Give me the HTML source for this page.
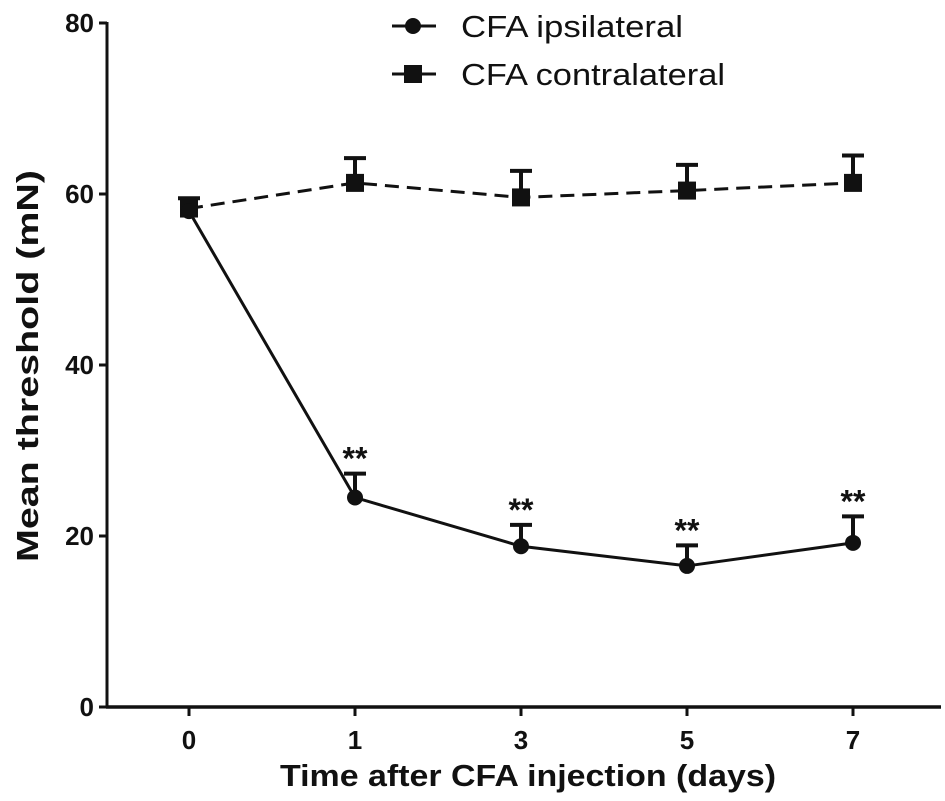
<!DOCTYPE html>
<html><head><meta charset="utf-8"><style>
html,body{margin:0;padding:0;background:#fff;}
svg{display:block;font-family:"Liberation Sans",Arial,sans-serif;}
</style></head><body>
<svg id="chart" width="945" height="801" viewBox="0 0 945 801"></svg>
<script>
const categories=["0","1","3","5","7"];
const ipsiValues=[58,24.5,18.8,16.5,19.2];
const ipsiErr=[0,2.8,2.5,2.4,3.1];
const contraValues=[58.3,61.3,59.6,60.4,61.3];
const contraErr=[1.2,2.9,3.1,3.0,3.2];
const yTicks=[0,20,40,60,80];
const stars=["","**","**","**","**"];

const NS="http://www.w3.org/2000/svg";
const svg=document.getElementById('chart');
const X0=189,DX=166,Y0=707,Y80=23;
function xs(i){return X0+i*DX;}
function ys(v){return Y0-(Y0-Y80)*v/80;}
function mk(tag,attrs,parent){const e=document.createElementNS(NS,tag);for(const k in attrs)e.setAttribute(k,attrs[k]);(parent||svg).appendChild(e);return e;}

const ax=mk('g',{});


mk('line',{x1:107,y1:Y80-1,x2:107,y2:Y0+1.5,stroke:'#111','stroke-width':3},ax);
mk('line',{x1:106,y1:Y0,x2:941,y2:Y0,stroke:'#111','stroke-width':3.5},ax);
yTicks.forEach(t=>{
  mk('line',{x1:99,y1:ys(t),x2:107,y2:ys(t),stroke:'#111','stroke-width':3},ax);
  const tx=mk('text',{x:94,y:ys(t)+9,'text-anchor':'end','font-size':26,'font-weight':'bold',fill:'#111'},ax);
  tx.textContent=t;
  
  
});
categories.forEach((c,i)=>{
  mk('line',{x1:xs(i),y1:Y0,x2:xs(i),y2:Y0+9,stroke:'#111','stroke-width':3},ax);
  const tx=mk('text',{x:xs(i),y:Y0+42,'text-anchor':'middle','font-size':26,'font-weight':'bold',fill:'#111'},ax);
  tx.textContent=c;
  
  
});
const xt=mk('text',{x:280,y:786,'font-size':31,'font-weight':'bold',fill:'#111',textLength:496,lengthAdjust:'spacingAndGlyphs'});
xt.textContent='Time after CFA injection  (days)';


const yt=mk('text',{x:0,y:0,'font-size':31,'font-weight':'bold',fill:'#111',transform:'translate(38,562) rotate(-90)',textLength:392,lengthAdjust:'spacingAndGlyphs'});
yt.textContent='Mean threshold  (mN)';



function series(vals,errs,dash,shape,name){
  const g=mk('g',{});
  
  
  const pts=vals.map((v,i)=>xs(i)+','+ys(v)).join(' ');
  const pl=mk('polyline',{points:pts,fill:'none',stroke:'#111','stroke-width':3,'stroke-dasharray':dash},g);
  
  
  vals.forEach((v,i)=>{
    if(errs[i]>0){
      const top=ys(v+errs[i]);
      mk('line',{x1:xs(i),y1:ys(v),x2:xs(i),y2:top,stroke:'#111','stroke-width':4},g);
      mk('line',{x1:xs(i)-11,y1:top,x2:xs(i)+11,y2:top,stroke:'#111','stroke-width':4},g);
    }
    let m;
    if(shape==='circle') m=mk('circle',{cx:xs(i),cy:ys(v),r:8,fill:'#111'},g);
    else m=mk('rect',{x:xs(i)-9,y:ys(v)-9,width:18,height:18,fill:'#111'},g);
    
    
  });
}
series(contraValues,contraErr,'14 8','square','contralateral-series');
series(ipsiValues,ipsiErr,'','circle','ipsilateral-series');
stars.forEach((s,i)=>{
  if(!s)return;
  const t=mk('text',{x:xs(i),y:ys(ipsiValues[i]+ipsiErr[i])-4,'text-anchor':'middle','font-size':32,'font-weight':'bold',fill:'#111'});
  t.textContent=s;
  
  
});
const lg=mk('g',{});


mk('line',{x1:392,y1:26,x2:436,y2:26,stroke:'#111','stroke-width':3},lg);
mk('circle',{cx:413,cy:26,r:8,fill:'#111'},lg);
const l1=mk('text',{x:461,y:37,'font-size':31,fill:'#111',textLength:222,lengthAdjust:'spacingAndGlyphs'},lg);
l1.textContent='CFA ipsilateral';


mk('line',{x1:392,y1:74,x2:436,y2:74,stroke:'#111','stroke-width':3},lg);
mk('rect',{x:404,y:65,width:18,height:18,fill:'#111'},lg);
const l2=mk('text',{x:461,y:85,'font-size':31,fill:'#111',textLength:264,lengthAdjust:'spacingAndGlyphs'},lg);
l2.textContent='CFA contralateral';


</script>
</body></html>
